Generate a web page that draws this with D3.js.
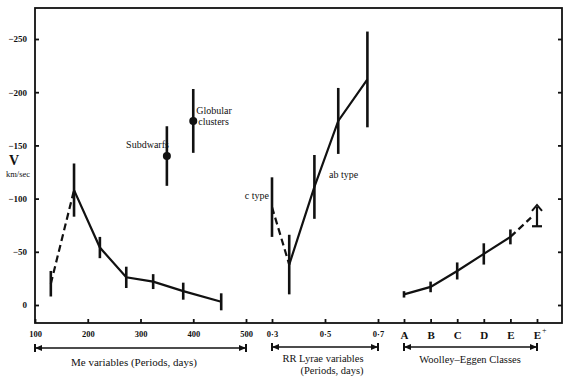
<!DOCTYPE html>
<html lang="en">
<head>
    <meta charset="UTF-8">
    <title>Velocity vs period</title>
    <script src="https://d3js.org/d3.v7.min.js"></script>
    <style>
        body { margin: 0; background: #fff; }
        text { font-family: "Liberation Serif", "DejaVu Serif", serif; fill: #111; }
        .tick text { font-weight: bold; fill: #111; }
    </style>
</head>
<body>
<svg id="chart"></svg>
<script>

    // Me variables (period in days, V in km/sec, error half width)
    var mePeriods = [130, 174, 223, 273, 324, 381, 453];
    var meV = [-20, -108, -54, -26, -22, -13, -3];
    var meErr = [12, 25, 10, 10, 7, 8, 8];

    // subdwarfs and globular clusters, placed on the Me period axis
    var groupNames = ["Subdwarfs", "Globular clusters"];
    var groupPeriods = [350, 400];
    var groupV = [-140, -173];
    var groupErr = [28, 30];

    // RR Lyrae variables (period in days)
    var rrPeriods = [0.30, 0.365, 0.46, 0.55, 0.66];
    var rrV = [-92, -38, -111, -173, -212];
    var rrErr = [28, 28, 30, 31, 45];

    // Woolley-Eggen classes, last one is a lower limit
    var weClasses = ["A", "B", "C", "D", "E", "E+"];
    var weV = [-10, -17, -32, -48, -64, -84];
    var weErr = [3, 5, 8, 10, 7, 10];

    var yTicks = [0, -50, -100, -150, -200, -250];
    var meTicks = [100, 200, 300, 400, 500];
    var rrTicks = [0.3, 0.5, 0.7];

    var width = 570, height = 382;
    var frame = {left: 35, right: 562, top: 8, bottom: 323};

    var svg = d3.select("#chart")
            .attr("width", width)
            .attr("height", height);

    var yScale = d3.scaleLinear().domain([0, -250]).range([305, 39]);
    var meX = d3.scaleLinear().domain([100, 500]).range([35, 246]);
    var rrX = d3.scaleLinear().domain([0.3, 0.7]).range([272, 378]);
    var weX = d3.scalePoint().domain(weClasses).range([404, 537]);

    // the box round the plot
    svg.append("rect")
            .attr("x", frame.left)
            .attr("y", frame.top)
            .attr("width", frame.right - frame.left)
            .attr("height", frame.bottom - frame.top)
            .attr("fill", "none")
            .attr("stroke", "#111")
            .attr("stroke-width", 1.8);

    // y axes, ticks pointing inwards
    svg.append("g")
            .attr("transform", "translate(" + frame.left + ",0)")
            .call(d3.axisLeft(yScale).tickValues(yTicks).tickSize(-4).tickPadding(8)
                    .tickFormat(function (d) { return d === 0 ? "0" : "\u2212" + Math.abs(d); }))
            .call(function (g) { g.select(".domain").remove(); })
            .call(function (g) {
                g.selectAll(".tick line").attr("stroke", "#111").attr("stroke-width", 1.8);
                g.selectAll(".tick text").style("font-size", "9px");
            });

    svg.append("g")
            .attr("transform", "translate(" + frame.right + ",0)")
            .call(d3.axisRight(yScale).tickValues(yTicks).tickSize(-4).tickFormat(""))
            .call(function (g) { g.select(".domain").remove(); })
            .call(function (g) { g.selectAll(".tick line").attr("stroke", "#111").attr("stroke-width", 1.8); });

    svg.append("text").text("V")
            .attr("x", 14).attr("y", 165)
            .attr("text-anchor", "middle")
            .style("font-size", "14px").style("font-weight", "bold");
    svg.append("text").text("km/sec")
            .attr("x", 18).attr("y", 177)
            .attr("text-anchor", "middle")
            .style("font-size", "8.5px");

    // the three bottom axes
    function bottomAxis(axis, size) {
        svg.append("g")
                .attr("transform", "translate(0," + frame.bottom + ")")
                .call(axis.tickSize(-4).tickPadding(8))
                .call(function (g) { g.select(".domain").remove(); })
                .call(function (g) {
                    g.selectAll(".tick line").attr("stroke", "#111").attr("stroke-width", 1.8);
                    g.selectAll(".tick text").style("font-size", size);
                });
    }
    bottomAxis(d3.axisBottom(meX).tickValues(meTicks), "8.5px");
    bottomAxis(d3.axisBottom(rrX).tickValues(rrTicks)
            .tickFormat(function (d) { return d3.format(".1f")(d).replace(".", "\u00b7"); }), "8.5px");
    bottomAxis(d3.axisBottom(weX).tickFormat(function (d) { return d === "E+" ? "E" : d; }), "11px");
    svg.append("text").text("+")
            .attr("x", weX("E+") + 5).attr("y", frame.bottom + 10)
            .style("font-size", "8px");

    // brackets under the axes
    function bracket(x0, x1, y) {
        var g = svg.append("g").attr("stroke", "#111").attr("fill", "#111");
        g.append("line").attr("x1", x0).attr("x2", x1).attr("y1", y).attr("y2", y).attr("stroke-width", 1.3);
        g.append("line").attr("x1", x0).attr("x2", x0).attr("y1", y - 4).attr("y2", y + 4).attr("stroke-width", 2);
        g.append("line").attr("x1", x1).attr("x2", x1).attr("y1", y - 4).attr("y2", y + 4).attr("stroke-width", 2);
        g.append("path").attr("stroke", "none")
                .attr("d", "M" + x0 + "," + y + "l7,-3l0,6z");
        g.append("path").attr("stroke", "none")
                .attr("d", "M" + x1 + "," + y + "l-7,-3l0,6z");
    }
    bracket(meX(100), meX(500), 348);
    bracket(rrX(0.3), rrX(0.7), 347);
    bracket(weX("A"), weX("E+"), 347);

    svg.append("text").text("Me variables  (Periods, days)")
            .attr("x", 134).attr("y", 366).attr("text-anchor", "middle").style("font-size", "11px");
    svg.append("text").text("RR Lyrae variables")
            .attr("x", 323).attr("y", 362).attr("text-anchor", "middle").style("font-size", "10.5px");
    svg.append("text").text("(Periods, days)")
            .attr("x", 332).attr("y", 374).attr("text-anchor", "middle").style("font-size", "10.5px");
    svg.append("text").text("Woolley\u2013Eggen  Classes")
            .attr("x", 470).attr("y", 363).attr("text-anchor", "middle").style("font-size", "10.5px");

    // helpers for lines and error bars
    function points(xs, vs, xScale) {
        return xs.map(function (x, i) { return [xScale(x), yScale(vs[i])]; });
    }
    function drawLine(pts, dashed) {
        svg.append("path")
                .attr("d", d3.line()(pts))
                .attr("fill", "none")
                .attr("stroke", "#111")
                .attr("stroke-width", 2.2)
                .attr("stroke-dasharray", dashed ? "7,4" : null);
    }
    function errorBars(xs, vs, errs, xScale) {
        svg.append("g").selectAll("line")
                .data(xs)
                .enter().append("line")
                .attr("x1", function (d) { return xScale(d); })
                .attr("x2", function (d) { return xScale(d); })
                .attr("y1", function (d, i) { return yScale(vs[i] - errs[i]); })
                .attr("y2", function (d, i) { return yScale(vs[i] + errs[i]); })
                .attr("stroke", "#111")
                .attr("stroke-width", 2.6);
    }

    // Me variables
    var mePts = points(mePeriods, meV, meX);
    drawLine(mePts.slice(0, 2), true);
    drawLine(mePts.slice(1), false);
    errorBars(mePeriods, meV, meErr, meX);

    // subdwarfs and globular clusters
    errorBars(groupPeriods, groupV, groupErr, meX);
    svg.append("g").selectAll("circle")
            .data(groupPeriods)
            .enter().append("circle")
            .attr("cx", function (d) { return meX(d); })
            .attr("cy", function (d, i) { return yScale(groupV[i]); })
            .attr("r", 4)
            .attr("fill", "#111");
    svg.append("text").text(groupNames[0])
            .attr("x", meX(groupPeriods[0]) + 2).attr("y", yScale(groupV[0]) - 8)
            .attr("text-anchor", "end").style("font-size", "10px");
    svg.append("text").text("Globular")
            .attr("x", meX(groupPeriods[1]) + 3).attr("y", yScale(groupV[1]) - 7)
            .style("font-size", "10px");
    svg.append("text").text("clusters")
            .attr("x", meX(groupPeriods[1]) + 5).attr("y", yScale(groupV[1]) + 4)
            .style("font-size", "10px");

    // RR Lyrae variables
    var rrPts = points(rrPeriods, rrV, rrX);
    drawLine(rrPts.slice(0, 2), true);
    drawLine(rrPts.slice(1), false);
    errorBars(rrPeriods, rrV, rrErr, rrX);
    svg.append("text").text("c type")
            .attr("x", rrX(rrPeriods[0]) - 3).attr("y", 199)
            .attr("text-anchor", "end").style("font-size", "10px");
    svg.append("text").text("ab type")
            .attr("x", 329).attr("y", 178).style("font-size", "10px");

    // Woolley-Eggen classes
    var wePts = points(weClasses, weV, weX);
    drawLine(wePts.slice(0, 5), false);
    drawLine([wePts[4], [wePts[5][0] - 6, wePts[5][1] + 2]], true);
    errorBars(weClasses.slice(0, 5), weV.slice(0, 5), weErr.slice(0, 5), weX);

    // lower limit for E+ : arrow pointing up with a cap underneath
    var eX = weX("E+");
    var eLow = yScale(weV[5] + weErr[5]);
    var eHigh = yScale(weV[5] - weErr[5]);
    svg.append("line")
            .attr("x1", eX).attr("x2", eX).attr("y1", eLow).attr("y2", eHigh + 2)
            .attr("stroke", "#111").attr("stroke-width", 2.2);
    svg.append("line")
            .attr("x1", eX - 5).attr("x2", eX + 5).attr("y1", eLow).attr("y2", eLow)
            .attr("stroke", "#111").attr("stroke-width", 2.2);
    svg.append("path")
            .attr("d", "M" + (eX - 5) + "," + (eHigh + 6) + "L" + eX + "," + eHigh + "L" + (eX + 5) + "," + (eHigh + 6))
            .attr("fill", "none").attr("stroke", "#111").attr("stroke-width", 2);

</script>
</body>
</html>
